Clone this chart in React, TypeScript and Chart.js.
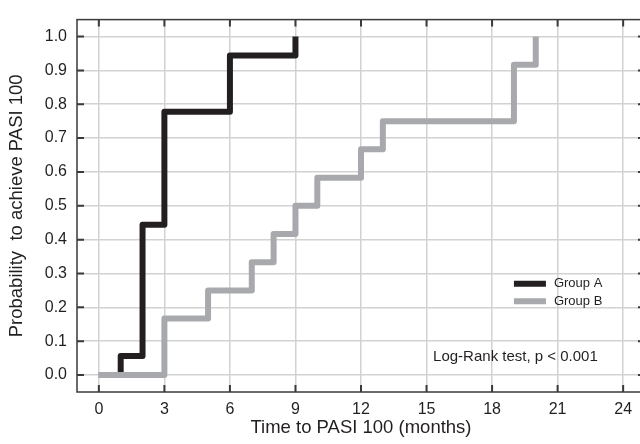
import React, { useEffect, useRef } from "react";
import { Chart, registerables } from "chart.js";

Chart.register(...registerables);

const groupATimes = [0, 1, 2, 3, 6, 9];
const groupAProb = [0, 0.056, 0.444, 0.778, 0.944, 1.0];
const groupBTimes = [0, 3, 5, 7, 8, 9, 10, 12, 13, 19, 20];
const groupBProb = [0, 0.167, 0.25, 0.333, 0.417, 0.5, 0.583, 0.667, 0.75, 0.917, 1.0];
const xTickValues = [0, 3, 6, 9, 12, 15, 18, 21, 24];
const yTickValues = [0, 0.1, 0.2, 0.3, 0.4, 0.5, 0.6, 0.7, 0.8, 0.9, 1.0];
const seriesNames = ["Group A", "Group B"];
const annotationText = "Log-Rank test, p < 0.001";
const xTitle = "Time to PASI 100 (months)";
const yTitle = "Probability  to achieve PASI 100";

const COLOR_A = "#231f20";
const COLOR_B = "#a7a9ac";
const FONT = "Arial, 'Liberation Sans', Helvetica, sans-serif";

const framePlugin = {
  id: "frameAndExtras",
  afterDatasetsDraw(chart: any) {
    const { ctx, chartArea, scales } = chart;
    const { left, right, top, bottom } = chartArea;
    ctx.save();
    // frame
    ctx.strokeStyle = "#3a3a3a";
    ctx.lineWidth = 1.5;
    ctx.strokeRect(left, top, right - left, bottom - top);
    // inward ticks
    ctx.lineWidth = 2;
    const tl = 7;
    ctx.beginPath();
    xTickValues.forEach((v) => {
      const x = scales.x.getPixelForValue(v);
      ctx.moveTo(x, bottom);
      ctx.lineTo(x, bottom - tl);
      ctx.moveTo(x, top);
      ctx.lineTo(x, top + tl);
    });
    yTickValues.forEach((v) => {
      const y = scales.y.getPixelForValue(v);
      ctx.moveTo(left, y);
      ctx.lineTo(left + tl, y);
      ctx.moveTo(right, y);
      ctx.lineTo(right - tl, y);
    });
    ctx.stroke();

    // legend
    const lx0 = scales.x.getPixelForValue(19.0);
    const lx1 = lx0 + 32;
    const ya = scales.y.getPixelForValue(0.27);
    const yb = scales.y.getPixelForValue(0.218);
    ctx.lineWidth = 6;
    ctx.strokeStyle = COLOR_A;
    ctx.beginPath();
    ctx.moveTo(lx0, ya);
    ctx.lineTo(lx1, ya);
    ctx.stroke();
    ctx.strokeStyle = COLOR_B;
    ctx.beginPath();
    ctx.moveTo(lx0, yb);
    ctx.lineTo(lx1, yb);
    ctx.stroke();
    ctx.fillStyle = "#231f20";
    ctx.font = `13px ${FONT}`;
    ctx.textAlign = "left";
    ctx.textBaseline = "middle";
    ctx.fillText(seriesNames[0], lx1 + 8, ya);
    ctx.fillText(seriesNames[1], lx1 + 8, yb);

    // annotation
    ctx.font = `15px ${FONT}`;
    ctx.fillText(annotationText, scales.x.getPixelForValue(15.3), scales.y.getPixelForValue(0.055));
    ctx.restore();
  },
};

export default function App() {
  const ref = useRef<HTMLCanvasElement | null>(null);

  useEffect(() => {
    if (!ref.current) return;
    const chart = new Chart(ref.current, {
      type: "line",
      data: {
        datasets: [
          {
            label: seriesNames[0],
            data: groupATimes.map((t, i) => ({ x: t, y: groupAProb[i] })),
            borderColor: COLOR_A,
            backgroundColor: COLOR_A,
            borderWidth: 6,
            stepped: "before",
            pointRadius: 0,
            fill: false,
            borderJoinStyle: "round",
            order: 1,
          },
          {
            label: seriesNames[1],
            data: groupBTimes.map((t, i) => ({ x: t, y: groupBProb[i] })),
            borderColor: COLOR_B,
            backgroundColor: COLOR_B,
            borderWidth: 6,
            stepped: "before",
            pointRadius: 0,
            fill: false,
            borderJoinStyle: "round",
            order: 0,
          },
        ],
      },
      options: {
        animation: false,
        responsive: false,
        maintainAspectRatio: false,
        layout: { padding: { top: 12, left: 0, right: 15, bottom: 0 } },
        plugins: {
          legend: { display: false },
          tooltip: { enabled: false },
          title: { display: false },
        },
        scales: {
          x: {
            type: "linear",
            min: -1,
            max: 25,
            afterBuildTicks: (scale: any) => {
              scale.ticks = xTickValues.map((v) => ({ value: v }));
            },
            afterFit: (scale: any) => {
              scale.height = 52;
            },
            grid: { color: "#d2d2d2", lineWidth: 1.5, drawTicks: false },
            border: { display: false },
            ticks: {
              padding: 8,
              color: "#231f20",
              font: { family: FONT, size: 16 },
              maxRotation: 0,
              callback: (v: any) => String(v),
            },
            title: {
              display: true,
              text: xTitle,
              color: "#231f20",
              font: { family: FONT, size: 18.5 },
              padding: { top: 0, bottom: 5 },
            },
          },
          y: {
            type: "linear",
            min: -0.05,
            max: 1.05,
            afterBuildTicks: (scale: any) => {
              scale.ticks = yTickValues.map((v) => ({ value: v }));
            },
            afterFit: (scale: any) => {
              scale.width = 77;
            },
            grid: { color: "#d2d2d2", lineWidth: 1.5, drawTicks: false },
            border: { display: false },
            ticks: {
              padding: 10,
              color: "#231f20",
              font: { family: FONT, size: 16 },
              callback: (v: any) => Number(v).toFixed(1),
            },
            title: {
              display: true,
              text: yTitle,
              color: "#231f20",
              font: { family: FONT, size: 18.5 },
              padding: { top: 6, bottom: 0 },
            },
          },
        },
      },
      plugins: [framePlugin],
    } as any);
    return () => chart.destroy();
  }, []);

  return (
    <div
      style={{
        position: "absolute",
        left: 0,
        top: 0,
        width: 640,
        height: 444,
        overflow: "hidden",
        background: "#fff",
      }}
    >
      <canvas ref={ref} width={660} height={444} style={{ display: "block" }} />
    </div>
  );
}
